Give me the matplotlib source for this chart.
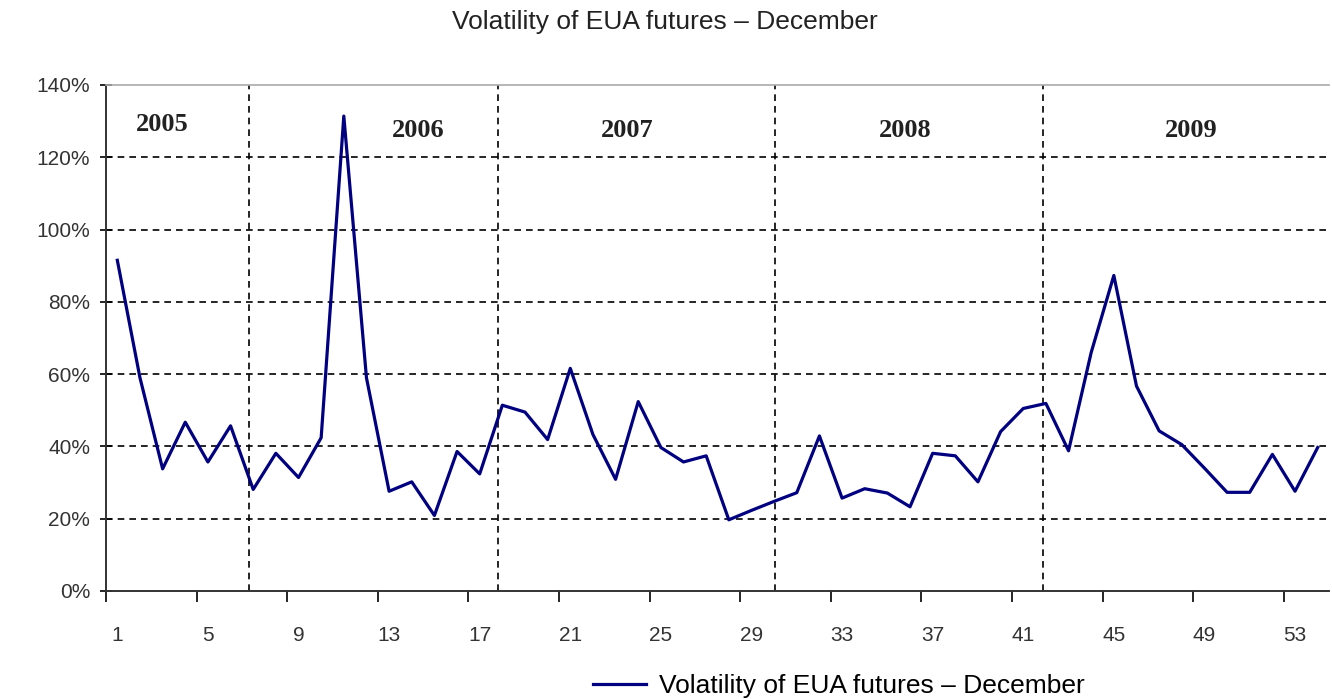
import numpy as np
import matplotlib.pyplot as plt
from matplotlib.ticker import FixedLocator

# weekly volatility, EUA December futures (in %)
semanas = list(range(1, 55))
volatilidade = [91.5, 59, 33.8, 46.7, 35.7, 45.7, 28.1, 38.1, 31.4, 42.4,
                131.4, 59, 27.6, 30.2, 20.9, 38.6, 32.4, 51.4, 49.5, 41.9,
                61.6, 43.3, 30.9, 52.4, 39.7, 35.7, 37.4, 19.7, 22.3, 24.8,
                27.2, 42.9, 25.7, 28.3, 27.1, 23.3, 38.1, 37.4, 30.2, 44.1,
                50.5, 51.9, 38.8, 66.0, 87.3, 56.7, 44.3, 40.5, 34.0, 27.3,
                27.3, 37.8, 27.6, 39.7]

anos = ['2005', '2006', '2007', '2008', '2009']
pos_anos = [3.0, 14.3, 23.5, 35.8, 48.4]
alt_anos = [129, 127.5, 127.5, 127.5, 127.5]
divisoes = [6.8, 17.83, 30.03, 41.87]

titulo = 'Volatility of EUA futures \u2013 December'

W, H = 1332, 699
fig = plt.figure(figsize=(W / 100, H / 100), dpi=100)
ax = fig.add_axes([106 / W, 1 - 591 / H, (1329 - 106) / W, (591 - 85) / H])

ax.plot(semanas, volatilidade, color='#000080', lw=2.3, label=titulo, zorder=3)

ax.set_xlim(0.5, 54.5)
ax.set_ylim(0, 140)

# horizontal grid + year separators
for v in range(20, 140, 20):
    ax.axhline(v, color='black', lw=1.2, ls=(0, (4, 3)), zorder=1)
for d in divisoes:
    ax.axvline(d, color='black', lw=1.2, ls=(0, (4, 3)), zorder=1)

for a, x, y in zip(anos, pos_anos, alt_anos):
    ax.text(x, y, a, ha='center', va='center', fontsize=19, fontweight='bold',
            family='Liberation Serif', color='#222222')

# y axis
ax.set_yticks(range(0, 141, 20))
ax.set_yticklabels([f'{v}%' for v in range(0, 141, 20)], fontsize=15,
                   family='Liberation Sans', color='#333333')
ax.tick_params(axis='y', direction='inout', length=9, width=1.2, pad=7)

# x axis: tick marks between categories, labels every 4th week
ax.xaxis.set_major_locator(FixedLocator(np.arange(0.5, 55, 4)))
ax.xaxis.set_minor_locator(FixedLocator(np.arange(1, 55, 4)))
ax.set_xticklabels([], minor=False)
ax.set_xticklabels([str(s) for s in range(1, 55, 4)], minor=True, fontsize=15,
                   family='Liberation Sans', color='#333333')
ax.tick_params(axis='x', which='major', direction='out', length=8, width=1.2)
ax.tick_params(axis='x', which='minor', length=0, pad=25)

for s in ['left', 'bottom']:
    ax.spines[s].set_color('#333333')
    ax.spines[s].set_linewidth(1.4)
ax.spines['top'].set_color('#aaaaaa')
ax.spines['top'].set_linewidth(1.2)
ax.spines['right'].set_visible(False)

fig.text(665 / W, 1 - 22 / H, titulo, ha='center', va='center', fontsize=19,
         family='Liberation Sans', color='#222222')

fig.legend(loc='center', bbox_to_anchor=(839 / W, 1 - 686 / H), frameon=False,
           prop={'family': 'Liberation Sans', 'size': 19}, handlelength=2.0,
           handletextpad=0.5)

fig.savefig('out.png', dpi=100)
